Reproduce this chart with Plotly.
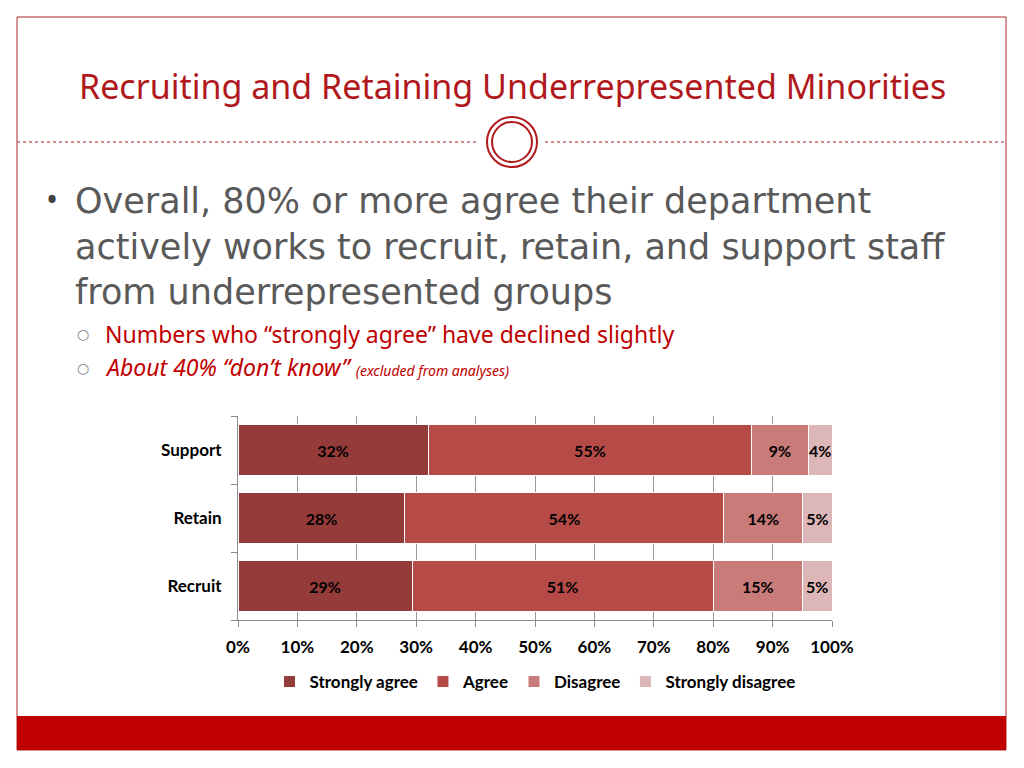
import plotly.graph_objects as go

# data
categories = ["Recruit", "Retain", "Support"]
series_names = ["Strongly agree", "Agree", "Disagree", "Strongly disagree"]
strongly_agree = [29.3, 28.1, 32.0]
agree = [50.7, 53.7, 54.5]
disagree = [15.0, 13.3, 9.5]
strongly_disagree = [5.0, 4.9, 4.0]
label_strongly_agree = ["29%", "28%", "32%"]
label_agree = ["51%", "54%", "55%"]
label_disagree = ["15%", "14%", "9%"]
label_strongly_disagree = ["5%", "5%", "4%"]
x_ticks = [0, 10, 20, 30, 40, 50, 60, 70, 80, 90, 100]
x_tick_labels = [f"{t}%" for t in x_ticks]

colors = ["#953B3A", "#B54A47", "#C97B79", "#DDB7B7"]
values = [strongly_agree, agree, disagree, strongly_disagree]
labels = [label_strongly_agree, label_agree, label_disagree, label_strongly_disagree]

RED = "#B0181C"
GRAY_TEXT = "#595959"
W, H = 1024, 768


def px(x):
    return x / W


def py(y):
    return 1 - y / H


fig = go.Figure()
for name, vals, labs, col in zip(series_names, values, labels, colors):
    fig.add_trace(go.Bar(
        y=categories, x=vals, name=name, orientation="h",
        marker=dict(color=col, line=dict(color="white", width=1)),
        text=labs, textposition="inside", insidetextanchor="middle",
        textangle=0, constraintext="none",
        textfont=dict(family="Lato", size=16, color="black", weight="bold"),
        hoverinfo="skip",
    ))

fig.update_layout(
    width=W, height=H,
    margin=dict(l=0, r=0, t=0, b=0, autoexpand=False),
    paper_bgcolor="white", plot_bgcolor="white",
    barmode="stack", bargap=0.25,
    showlegend=True,
    legend=dict(orientation="h", x=px(535), y=py(682), xanchor="center", yanchor="middle",
                font=dict(family="Lato", size=17, color="black", weight="bold"),
                itemwidth=30, traceorder="normal", itemclick=False),
    xaxis=dict(domain=[px(238), px(832)], range=[0, 100], tickvals=x_ticks, ticktext=x_tick_labels,
               showgrid=True, gridcolor="#9A9A9A", gridwidth=1, showline=True, linecolor="#8C8C8C",
               ticks="outside", ticklen=6, tickcolor="#8C8C8C", zeroline=False, automargin=False,
               ticklabelstandoff=6,
               tickfont=dict(family="Lato", size=17, color="black", weight="bold")),
    yaxis=dict(domain=[py(620), py(416)], categoryorder="array", categoryarray=categories,
               showline=True, linecolor="#8C8C8C", ticks="outside", ticklen=6, tickcolor="#8C8C8C",
               tickson="boundaries", ticklabelstandoff=12, showgrid=False, automargin=False,
               tickfont=dict(family="Lato", size=17, color="black", weight="bold")),
)

shapes = [
    # slide frame
    dict(type="rect", x0=px(17), x1=px(1006), y0=py(750), y1=py(17),
         line=dict(color="#A8282A", width=1)),
    # bottom red band
    dict(type="rect", x0=px(17), x1=px(1006), y0=py(750), y1=py(716),
         fillcolor="#C00000", line=dict(width=0)),
    # dotted divider
    dict(type="line", x0=px(17), x1=px(479), y0=py(142), y1=py(142),
         line=dict(color="#C46A6A", width=1.5, dash="dot")),
    dict(type="line", x0=px(545), x1=px(1006), y0=py(142), y1=py(142),
         line=dict(color="#C46A6A", width=1.5, dash="dot")),
    # double ring ornament
    dict(type="circle", x0=px(487), x1=px(537), y0=py(167), y1=py(117),
         line=dict(color=RED, width=2)),
    dict(type="circle", x0=px(492), x1=px(532), y0=py(162), y1=py(122),
         line=dict(color=RED, width=2)),
]
for s in shapes:
    s.update(xref="paper", yref="paper")
fig.update_layout(shapes=shapes)

ann = []
ann.append(dict(x=px(512), y=py(86), text="Recruiting and Retaining Underrepresented Minorities",
                font=dict(family="Noto Sans", size=34, color=RED), xanchor="center", yanchor="middle"))
ann.append(dict(x=px(44), y=py(199), text="•", font=dict(family="Noto Sans", size=32, color="#404040"),
                xanchor="left", yanchor="middle"))
main_text = ("Overall, 80% or more agree their department<br>"
             "actively works to recruit, retain, and support staff<br>"
             "from underrepresented groups")
ann.append(dict(x=px(73), y=py(179), text=main_text, align="left",
                font=dict(family="DejaVu Sans", size=35, color=GRAY_TEXT),
                xanchor="left", yanchor="top"))
ann.append(dict(x=px(75), y=py(334), text="○", font=dict(family="DejaVu Sans", size=14, color="#808080"),
                xanchor="left", yanchor="middle"))
ann.append(dict(x=px(75), y=py(368), text="○", font=dict(family="DejaVu Sans", size=14, color="#808080"),
                xanchor="left", yanchor="middle"))
ann.append(dict(x=px(103), y=py(334), text="Numbers who “strongly agree” have declined slightly",
                font=dict(family="Noto Sans", size=23, color="#C00000"), xanchor="left", yanchor="middle"))
ann.append(dict(x=px(103), y=py(367),
                text="<i>About 40% “don’t know”</i> <i><span style='font-size:14px'>(excluded from analyses)</span></i>",
                font=dict(family="Noto Sans", size=23, color="#C00000"), xanchor="left", yanchor="middle"))
for a in ann:
    a.update(xref="paper", yref="paper", showarrow=False)
fig.update_layout(annotations=ann)

fig.write_html("out.html", config={"responsive": False, "displayModeBar": False},
               post_script="document.body.style.margin='0';document.body.style.overflow='hidden';")
